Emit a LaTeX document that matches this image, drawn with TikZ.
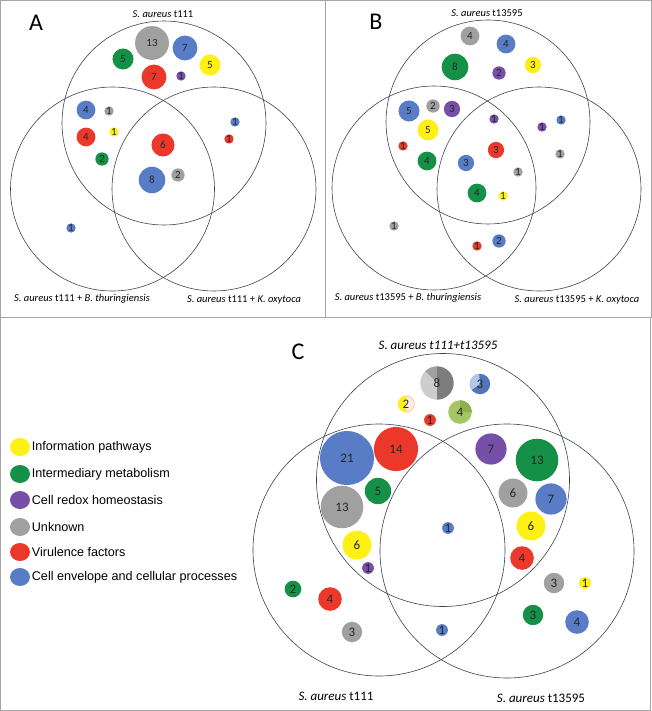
\documentclass[tikz,border=0pt]{standalone}
\usepackage{fontspec}
\setmainfont{Carlito}
\newfontfamily\legendfont{Liberation Sans}
\usetikzlibrary{positioning}
\usetikzlibrary{shapes.geometric}
\definecolor{cInfo}{RGB}{255,240,20}
\definecolor{cMeta}{RGB}{20,145,70}
\definecolor{cRedox}{RGB}{118,80,168}
\definecolor{cUnk}{RGB}{160,160,160}
\definecolor{cVir}{RGB}{236,56,42}
\definecolor{cEnv}{RGB}{88,125,198}
\definecolor{pGrayD}{RGB}{125,125,125}
\definecolor{pGrayM}{RGB}{160,160,160}
\definecolor{pGrayL}{RGB}{205,205,205}
\definecolor{pBlueL}{RGB}{180,198,231}
\definecolor{pBlueD}{RGB}{80,116,185}
\definecolor{pGreenL}{RGB}{166,198,100}
\definecolor{pGreenD}{RGB}{140,176,74}
\definecolor{pPeach}{RGB}{253,236,222}
\definecolor{pPeachE}{RGB}{240,180,130}
\definecolor{vennLine}{RGB}{60,66,80}

\begin{document}
\begin{tikzpicture}[
    x=1pt, y=-1pt,
    % panel frames
    frame/.style={draw=black!35, line width=0.8pt},
    % Venn circles
    venn/.style={circle, draw=vennLine, line width=0.6pt, inner sep=0pt},
    % bubbles: area grows with the count
    bubA/.style={circle, inner sep=0pt, minimum size={9.4pt*sqrt(#1)},
        font=\fontsize{11}{11}\selectfont, text=black!85},
    bubC/.style={circle, inner sep=0pt, minimum size={11.8pt*sqrt(#1)},
        font=\fontsize{13}{13}\selectfont, text=black!85},
    lab/.style={font=\fontsize{10.5}{12}\selectfont, inner sep=1pt},
    labC/.style={font=\fontsize{13}{14}\selectfont, inner sep=1pt},
    panel/.style={font=\fontsize{24}{24}\selectfont, inner sep=0pt},
    % legend
    legdot/.style={ellipse, inner sep=0pt, minimum width=20pt, minimum height=18pt},
    legtext/.style={font=\legendfont\fontsize{12.6}{13}\selectfont, inner sep=1pt}
]
    \useasboundingbox (0,0) rectangle (652,711);

    % --- frames ---
    \draw[frame] (0.5,0.5) rectangle (325.5,317);
    \draw[frame] (325.5,0.5) rectangle (651.5,317);
    \draw[frame] (0.5,317) rectangle (650.5,710.5);

    % --- A ---
    \node[venn, minimum size=204pt] (aT) at (164,123) {};
    \node[venn, minimum size=204pt] (aL) at (112.5,189) {};
    \node[venn, minimum size=204pt] (aR) at (214,189) {};
    \node[panel] (pA) at (36,23) {A};
    \node[lab] (aTl) at (163,14) {\textit{S. aureus} t111};
    \node[lab] (aLl) at (82,299) {\textit{S. aureus} t111 + \textit{B. thuringiensis}};
    \node[lab] (aRl) at (244,300) {\textit{S. aureus} t111 + \textit{K. oxytoca}};

    \node[bubA=13, fill=cUnk] (a13u) at (152,43) {13};
    \node[bubA=7, fill=cEnv] (a7e) at (185,48) {7};
    \node[bubA=5, fill=cMeta] (a5m) at (123,59) {5};
    \node[bubA=5, fill=cInfo] (a5i) at (210,65) {5};
    \node[bubA=7, fill=cVir] (a7v) at (154,77) {7};
    \node[bubA=1, fill=cRedox] (a1r) at (181,76) {1};
    \node[bubA=4, fill=cEnv] (aL4e) at (86,110) {4};
    \node[bubA=1, fill=cUnk] (aL1u) at (109,111) {1};
    \node[bubA=4, fill=cVir] (aL4v) at (86,137) {4};
    \node[bubA=1, fill=cInfo] (aL1i) at (114,132) {1};
    \node[bubA=2, fill=cMeta] (aL2m) at (102,159) {2};
    \node[bubA=6, fill=cVir] (aM6v) at (163,145) {6};
    \node[bubA=8, fill=cEnv] (aM8e) at (152,180) {8};
    \node[bubA=2, fill=cUnk] (aM2u) at (178,175) {2};
    \node[bubA=1, fill=cEnv] (aR1e) at (235,122) {1};
    \node[bubA=1, fill=cVir] (aR1v) at (229,139) {1};
    \node[bubA=1, fill=cEnv] (aB1e) at (71,228) {1};

    % --- B ---
    \node[venn, minimum size=204pt] (bT) at (488,122) {};
    \node[venn, minimum size=204pt] (bL) at (434,188) {};
    \node[venn, minimum size=204pt] (bR) at (539,189) {};
    \node[panel] (pB) at (376,22) {B};
    \node[lab] (bTl) at (487,13) {\textit{S. aureus} t13595};
    \node[lab] (bLl) at (408,298) {\textit{S. aureus} t13595 + \textit{B. thuringiensis}};
    \node[lab] (bRl) at (577,300) {\textit{S. aureus} t13595 + \textit{K. oxytoca}};

    \node[bubA=4, fill=cUnk] (b4u) at (470,36) {4};
    \node[bubA=4, fill=cEnv] (b4e) at (506,44) {4};
    \node[bubA=8, fill=cMeta] (b8m) at (455,67) {8};
    \node[bubA=2, fill=cRedox] (b2r) at (499,73) {2};
    \node[bubA=3, fill=cInfo] (b3i) at (533,65) {3};
    \node[bubA=5, fill=cEnv] (bL5e) at (409,111) {5};
    \node[bubA=2, fill=cUnk] (bL2u) at (433,106) {2};
    \node[bubA=3, fill=cRedox] (bL3r) at (452,109) {3};
    \node[bubA=5, fill=cInfo] (bL5i) at (428,130) {5};
    \node[bubA=1, fill=cVir] (bL1v) at (403,146) {1};
    \node[bubA=4, fill=cMeta] (bL4m) at (427,161) {4};
    \node[bubA=1, fill=cRedox] (bM1r) at (494,119) {1};
    \node[bubA=3, fill=cVir] (bM3v) at (496,150) {3};
    \node[bubA=3, fill=cEnv] (bM3e) at (466,163) {3};
    \node[bubA=1, fill=cUnk] (bM1u) at (518,172) {1};
    \node[bubA=4, fill=cMeta] (bM4m) at (477,193) {4};
    \node[bubA=1, fill=cInfo] (bM1i) at (503,196) {1};
    \node[bubA=1, fill=cRedox] (bR1r) at (542,127) {1};
    \node[bubA=1, fill=cEnv] (bR1e) at (561,120) {1};
    \node[bubA=1, fill=cUnk] (bR1u) at (560,154) {1};
    \node[bubA=1, fill=cUnk] (bB1u) at (394,226) {1};
    \node[bubA=1, fill=cVir] (bB1v) at (477,246) {1};
    \node[bubA=2, fill=cEnv] (bB2e) at (499,241) {2};

    % --- C ---
    \node[venn, minimum size=253pt] (cT) at (443,480) {};
    \node[venn, minimum size=252pt] (cL) at (379,550) {};
    \node[venn, minimum size=254pt] (cR) at (507,551) {};
    \node[panel] (pC) at (298,352) {C};
    \node[labC] (cTl) at (438,345) {\textit{S. aureus t111+t13595}};
    \node[labC] (cLl) at (336,696) {\textit{S. aureus} t111};
    \node[labC] (cRl) at (541,698) {\textit{S. aureus} t13595};

    % pies
    \coordinate (pU) at (437,383);
    \fill[pGrayL] (pU) -- ++(135:16.7pt) arc[start angle=135, end angle=270, radius=16.7pt] -- cycle;
    \fill[pGrayM] (pU) -- ++(90:16.7pt) arc[start angle=90, end angle=135, radius=16.7pt] -- cycle;
    \fill[pGrayD] (pU) -- ++(-90:16.7pt) arc[start angle=-90, end angle=90, radius=16.7pt] -- cycle;
    \node[bubC=8] (c8u) at (pU) {8};
    \coordinate (pE) at (480,384);
    \fill[pBlueD] (pE) circle[radius=10.2pt];
    \fill[pBlueL] (pE) -- ++(95:10.2pt) arc[start angle=95, end angle=215, radius=10.2pt] -- cycle;
    \node[bubC=3] (c3e) at (pE) {3};
    \coordinate (pI) at (406,404);
    \fill[cInfo] (pI) circle[radius=8.3pt];
    \filldraw[fill=pPeach, draw=pPeachE, line width=0.4pt] (pI) ++(-90:8.3pt) arc[start angle=-90, end angle=90, radius=8.3pt] -- cycle;
    \node[bubC=2] (c2i) at (pI) {2};
    \coordinate (pM) at (460,412);
    \fill[pGreenL] (pM) circle[radius=11.8pt];
    \fill[pGreenD] (pM) -- ++(0:11.8pt) arc[start angle=0, end angle=90, radius=11.8pt] -- cycle;
    \node[bubC=4] (c4m) at (pM) {4};

    \node[bubC=1, fill=cVir] (c1v) at (430,420) {1};
    \node[bubC=21, fill=cEnv] (cL21e) at (347,458) {21};
    \node[bubC=14, fill=cVir] (cL14v) at (396,449) {14};
    \node[bubC=5, fill=cMeta] (cL5m) at (378,491) {5};
    \node[bubC=13, fill=cUnk] (cL13u) at (342,507) {13};
    \node[bubC=6, fill=cInfo] (cL6i) at (357,545) {6};
    \node[bubC=1, fill=cRedox] (cL1r) at (368,568) {1};
    \node[bubC=7, fill=cRedox] (cR7r) at (491,449) {7};
    \node[bubC=13, fill=cMeta] (cR13m) at (537,460) {13};
    \node[bubC=6, fill=cUnk] (cR6u) at (513,493) {6};
    \node[bubC=7, fill=cEnv] (cR7e) at (551,499) {7};
    \node[bubC=6, fill=cInfo] (cR6i) at (531,526) {6};
    \node[bubC=4, fill=cVir] (cR4v) at (522,558) {4};
    \node[bubC=1, fill=cEnv] (cM1e) at (448,528) {1};
    \node[bubC=3, fill=cUnk] (cRR3u) at (554,583) {3};
    \node[bubC=1, fill=cInfo] (cRR1i) at (585,583) {1};
    \node[bubC=3, fill=cMeta] (cRR3m) at (533,615) {3};
    \node[bubC=4, fill=cEnv] (cRR4e) at (577,622) {4};
    \node[bubC=2, fill=cMeta] (cLL2m) at (293,589) {2};
    \node[bubC=4, fill=cVir] (cLL4v) at (330,599) {4};
    \node[bubC=3, fill=cUnk] (cLL3u) at (352,632) {3};
    \node[bubC=1, fill=cEnv] (cB1e) at (442,630) {1};

    % --- legend ---
    \node[legdot, fill=cInfo] (lInfo) at (20,447) {};
    \node[legdot, fill=cMeta] (lMeta) at (20,474) {};
    \node[legdot, fill=cRedox] (lRedox) at (20,500) {};
    \node[legdot, fill=cUnk] (lUnk) at (20,527) {};
    \node[legdot, fill=cVir] (lVir) at (20,552) {};
    \node[legdot, fill=cEnv] (lEnv) at (20,577) {};
    \node[legtext, right=0.5pt of lInfo] (tInfo) {Information pathways};
    \node[legtext, right=0.5pt of lMeta] (tMeta) {Intermediary metabolism};
    \node[legtext, right=0.5pt of lRedox] (tRedox) {Cell redox homeostasis};
    \node[legtext, right=0.5pt of lUnk] (tUnk) {Unknown};
    \node[legtext, right=0.5pt of lVir] (tVir) {Virulence factors};
    \node[legtext, right=0.5pt of lEnv] (tEnv) {Cell envelope and cellular processes};
\end{tikzpicture}
\end{document}
